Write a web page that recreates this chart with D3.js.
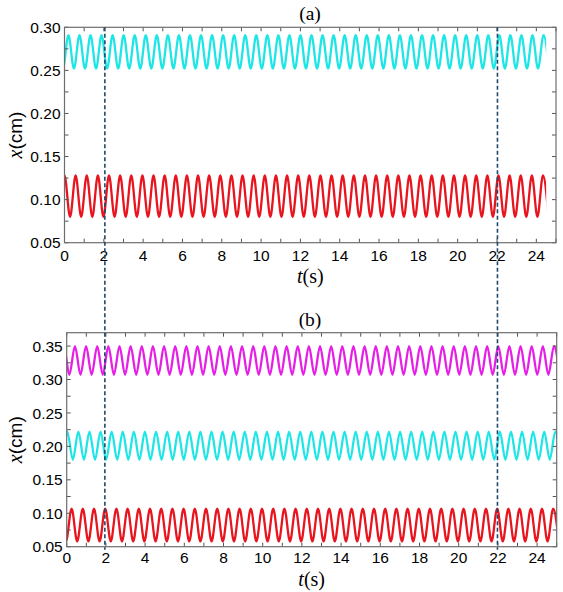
<!DOCTYPE html>
<html><head><meta charset="utf-8">
<script src="https://cdn.jsdelivr.net/npm/d3@7/dist/d3.min.js"></script>
<style>body{margin:0;background:#fff}svg{display:block}</style>
</head><body><svg id="c" width="563" height="592"></svg>
<script>
// ---- data ----
// panel (a): two oscillating traces, panel (b): three
const panelTitles = ["(a)", "(b)"];
const xTicks = [0, 2, 4, 6, 8, 10, 12, 14, 16, 18, 20, 22, 24];
const yTicksA = [0.05, 0.10, 0.15, 0.20, 0.25, 0.30];
const yTicksB = [0.05, 0.10, 0.15, 0.20, 0.25, 0.30, 0.35];
const markerTimes = [2, 22];
// per trace: panel, colour, crest value, trough value, time of first crest, period, end time
const tracePanel    = [0, 0, 1, 1, 1];
const traceColor    = ["#1ee6e6", "#e8141e", "#e61ee6", "#1ee6e6", "#e8141e"];
const crestValues   = [0.291, 0.128, 0.350, 0.222, 0.107];
const troughValues  = [0.252, 0.080, 0.307, 0.180, 0.058];
const firstCrest    = [0.20, 0.00, 0.42, 0.03, 0.25];
const periods       = [0.562, 0.566, 0.5684, 0.5659, 0.5714];
const endTimes      = [24.5, 24.5, 25, 25, 25];

const svg = d3.select("#c");
const panels = [
  {l:64.5, r:556, t:27.3, b:242.7, yd:[0.05,0.30], ticks:yTicksA, tickLabY:18, titleY:20, xlabY:283},
  {l:66.7, r:556.7, t:332.7, b:546.7, yd:[0.05,0.37], ticks:yTicksB, tickLabY:16.5, titleY:326, xlabY:586}
];
const sans = "'Liberation Sans', Arial, sans-serif";
const serif = "'Liberation Serif', 'Times New Roman', serif";

panels.forEach(p => {
  p.x = d3.scaleLinear().domain([0, 25]).range([p.l, p.r]);
  p.y = d3.scaleLinear().domain(p.yd).range([p.b, p.t]);
});

// traces
tracePanel.forEach((pi, i) => {
  const p = panels[pi];
  const half = periods[i] / 2;
  const pts = [];
  const k0 = Math.floor(-firstCrest[i] / half) - 1;
  for (let k = k0; firstCrest[i] + k * half <= endTimes[i] + half; k++) {
    const t = firstCrest[i] + k * half;
    pts.push([t, (((k % 2) + 2) % 2 === 0) ? crestValues[i] : troughValues[i]]);
  }
  const cid = "tc" + i;
  svg.append("clipPath").attr("id", cid).append("rect")
    .attr("x", p.x(0)).attr("y", p.t - 5)
    .attr("width", p.x(endTimes[i]) - p.x(0)).attr("height", p.b - p.t + 10);
  const line = d3.line().x(d => p.x(d[0])).y(d => p.y(d[1])).curve(d3.curveMonotoneX);
  svg.append("path").attr("d", line(pts)).attr("fill", "none")
    .attr("stroke", traceColor[i]).attr("stroke-width", 2.3)
    .attr("clip-path", `url(#${cid})`);
});

// axes
panels.forEach((p, pi) => {
  const g = svg.append("g");
  const minorX = d3.range(0, 26, 1);
  const minorY = d3.range(p.yd[0], p.yd[1] + 1e-9, 0.025);
  const tl = 4;
  minorX.forEach(v => {
    const xx = p.x(v);
    g.append("line").attr("x1", xx).attr("x2", xx).attr("y1", p.b).attr("y2", p.b - tl).attr("stroke", "#555");
    g.append("line").attr("x1", xx).attr("x2", xx).attr("y1", p.t).attr("y2", p.t + tl).attr("stroke", "#555");
  });
  minorY.forEach(v => {
    const yy = p.y(v);
    g.append("line").attr("x1", p.l).attr("x2", p.l + tl).attr("y1", yy).attr("y2", yy).attr("stroke", "#555");
    g.append("line").attr("x1", p.r).attr("x2", p.r - tl).attr("y1", yy).attr("y2", yy).attr("stroke", "#555");
  });
  g.append("rect").attr("x", p.l).attr("y", p.t).attr("width", p.r - p.l).attr("height", p.b - p.t)
    .attr("fill", "none").attr("stroke", "#6e6e6e").attr("stroke-width", 1.2);
  xTicks.forEach(v => {
    g.append("text").attr("x", p.x(v)).attr("y", p.b + p.tickLabY).attr("text-anchor", "middle")
      .attr("font-family", sans).attr("font-size", 15.5).attr("fill", "#000").text(v);
  });
  p.ticks.forEach(v => {
    g.append("text").attr("x", p.l - 4).attr("y", p.y(v)).attr("dy", "0.36em").attr("text-anchor", "end")
      .attr("font-family", sans).attr("font-size", 15.5).attr("fill", "#000").text(d3.format(".2f")(v));
  });
  g.append("text").attr("x", 310).attr("y", p.titleY).attr("text-anchor", "middle")
    .attr("font-family", serif).attr("font-size", 19.5).text(panelTitles[pi]);
  const xl = g.append("text").attr("x", (p.l + p.r) / 2).attr("y", p.xlabY).attr("text-anchor", "middle")
    .attr("font-family", serif).attr("font-size", 20);
  xl.append("tspan").attr("font-style", "italic").text("t");
  xl.append("tspan").text("(s)");
  const yl = g.append("text").attr("transform", `translate(22,${(p.t + p.b) / 2}) rotate(-90)`)
    .attr("text-anchor", "middle").attr("font-size", 20);
  yl.append("tspan").attr("font-family", serif).attr("font-style", "italic").text("x");
  yl.append("tspan").attr("font-family", sans).attr("font-size", 19).text("(cm)");
});

// dashed markers spanning both panels
markerTimes.forEach(t => {
  const xx = (panels[0].x(t) + panels[1].x(t)) / 2;
  svg.append("line").attr("x1", xx).attr("x2", xx).attr("y1", panels[0].t).attr("y2", panels[1].b + 3)
    .attr("stroke", "#1d4a6b").attr("stroke-width", 1.6).attr("stroke-dasharray", "4,2.5");
});
</script></body></html>
